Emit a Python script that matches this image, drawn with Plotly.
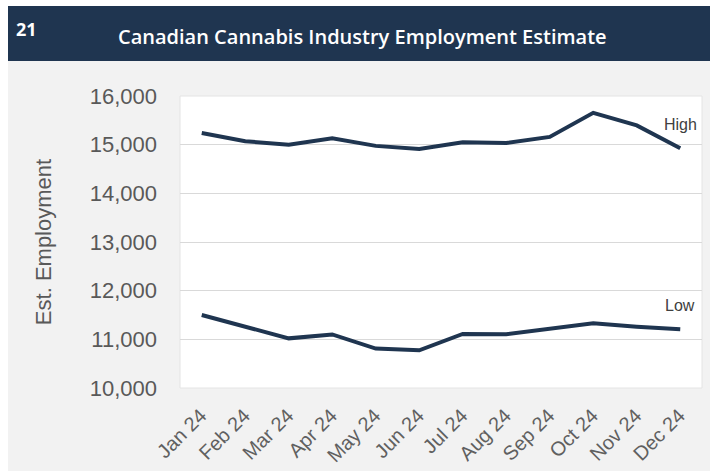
import plotly.graph_objects as go

# Monthly employment estimates, 2024
months = ["Jan 24", "Feb 24", "Mar 24", "Apr 24", "May 24", "Jun 24",
          "Jul 24", "Aug 24", "Sep 24", "Oct 24", "Nov 24", "Dec 24"]
high = [15240, 15070, 15000, 15130, 14975, 14910, 15050, 15035, 15160, 15655, 15395, 14925]
low = [11500, 11250, 11020, 11100, 10810, 10775, 11110, 11105, 11225, 11330, 11260, 11205]
y_ticks = [10000, 11000, 12000, 13000, 14000, 15000, 16000]

NAVY = "#1f3550"
PANEL = "#f2f2f2"
W, H = 710, 471
ML, MR, MT, MB = 180, 8, 96, 83
PW, PH = W - ML - MR, H - MT - MB


def px_x(px):
    return (px - ML) / PW


def px_y(py):
    return (H - MB - py) / PH


fig = go.Figure()
for name, vals in (("High", high), ("Low", low)):
    fig.add_trace(go.Scatter(
        x=months, y=vals, mode="lines", name=name,
        line=dict(color=NAVY, width=4), hoverinfo="x+y",
    ))

shapes = [
    # white page margin above and to the left of the card
    dict(type="rect", xref="paper", yref="paper", layer="below",
         x0=px_x(-2), x1=px_x(W + 2), y0=px_y(6), y1=px_y(-2),
         fillcolor="white", line=dict(width=0)),
    dict(type="rect", xref="paper", yref="paper", layer="below",
         x0=px_x(-2), x1=px_x(8), y0=px_y(H + 2), y1=px_y(-2),
         fillcolor="white", line=dict(width=0)),
    # title bar
    dict(type="rect", xref="paper", yref="paper", layer="below",
         x0=px_x(8), x1=px_x(W + 2), y0=px_y(61), y1=px_y(6),
         fillcolor=NAVY, line=dict(width=0)),
    # faint edge around the plot panel
    dict(type="rect", xref="paper", yref="paper", layer="below",
         x0=0, x1=1, y0=0, y1=1,
         fillcolor="rgba(0,0,0,0)", line=dict(width=1, color="#e4e4e4")),
]

annotations = [
    dict(text="<b>21</b>", xref="paper", yref="paper", x=px_x(14), y=px_y(29),
         xanchor="left", yanchor="middle", showarrow=False,
         font=dict(family="Open Sans", size=18, color="white")),
    dict(text="Canadian Cannabis Industry Employment Estimate",
         xref="paper", yref="paper", x=px_x(362), y=px_y(37),
         xanchor="center", yanchor="middle", showarrow=False,
         font=dict(family="Open Sans", size=20, color="white", weight=600)),
    dict(text="High", x=months[-1], y=15405, xref="x", yref="y",
         xanchor="center", yanchor="middle", showarrow=False,
         font=dict(family="Liberation Sans", size=16, color="#404040")),
    dict(text="Low", x=months[-1], y=11690, xref="x", yref="y",
         xanchor="center", yanchor="middle", showarrow=False,
         font=dict(family="Liberation Sans", size=16, color="#404040")),
]

fig.update_layout(
    width=W, height=H,
    margin=dict(l=ML, r=MR, t=MT, b=MB, pad=0),
    paper_bgcolor=PANEL,
    plot_bgcolor="white",
    showlegend=False,
    shapes=shapes,
    annotations=annotations,
    font=dict(family="Liberation Sans", color="#595959"),
)
fig.update_xaxes(
    type="category", range=[-0.5, 11.5], tickangle=-45, automargin=False,
    showgrid=False, zeroline=False, showline=False, ticks="",
    ticklabelshift=-1, ticklabelstandoff=11,
    tickfont=dict(family="Liberation Sans", size=20, color="#606060"),
)
fig.update_yaxes(
    range=[10000, 16000], tickvals=y_ticks, tickformat=",", automargin=False,
    showgrid=True, gridcolor="#d9d9d9", gridwidth=1,
    zeroline=False, showline=False, ticks="", ticklabelstandoff=22,
    tickfont=dict(family="Liberation Sans", size=22, color="#595959"),
    title=dict(text="Est. Employment", standoff=32,
               font=dict(family="Liberation Sans", size=22, color="#595959")),
)

fig.write_html("out.html")
